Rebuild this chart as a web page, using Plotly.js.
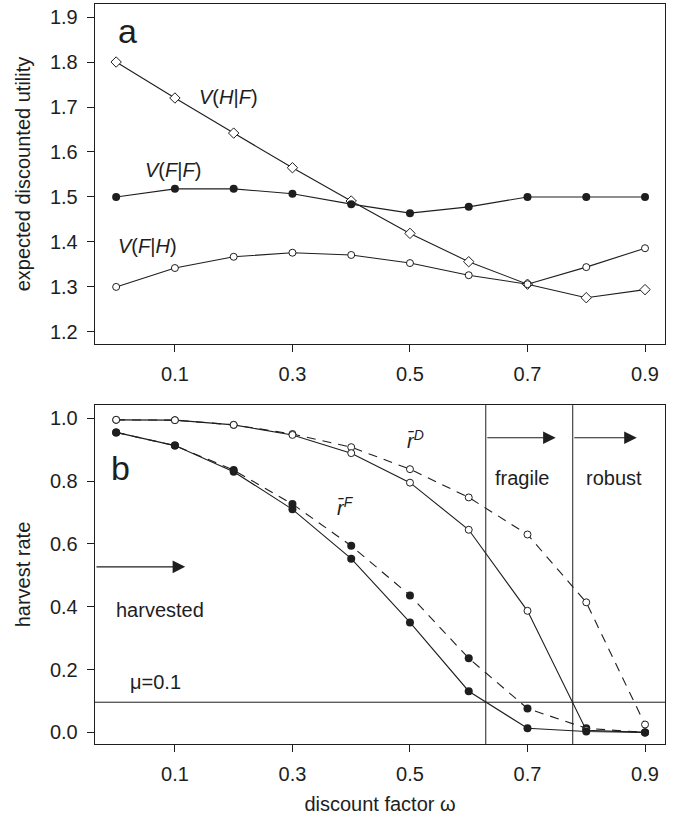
<!DOCTYPE html>
<html>
<head>
<meta charset="utf-8">
<script src="https://cdn.plot.ly/plotly-3.0.1.min.js"></script>
<style>html,body{margin:0;padding:0;background:#fff;}#chart{width:673px;height:815px;}</style>
</head>
<body>
<div id="chart"></div>
<script>
// ---- data ----
const omega = [0, 0.1, 0.2, 0.3, 0.4, 0.5, 0.6, 0.7, 0.8, 0.9];
// panel a: expected discounted utility
const V_HF = [1.800, 1.720, 1.642, 1.565, 1.491, 1.419, 1.356, 1.306, 1.276, 1.294];
const V_FF = [1.500, 1.518, 1.518, 1.507, 1.484, 1.464, 1.478, 1.500, 1.500, 1.500];
const V_FH = [1.300, 1.342, 1.367, 1.376, 1.371, 1.353, 1.326, 1.306, 1.344, 1.386];
// panel b: harvest rate
const rD_solid  = [0.995, 0.994, 0.979, 0.947, 0.889, 0.795, 0.645, 0.387, 0.007, 0.000];
const rD_dashed = [0.995, 0.994, 0.979, 0.950, 0.908, 0.838, 0.748, 0.630, 0.414, 0.025];
const rF_solid  = [0.955, 0.913, 0.830, 0.710, 0.553, 0.350, 0.131, 0.013, 0.003, 0.000];
const rF_dashed = [0.955, 0.913, 0.835, 0.727, 0.594, 0.436, 0.236, 0.076, 0.013, 0.000];
const muLevel = 0.096;
const regimeBounds = [0.629, 0.777];
const xTicks = [0.1, 0.3, 0.5, 0.7, 0.9];
const xTickText = ['0.1', '0.3', '0.5', '0.7', '0.9'];
const yTicksA = [1.2, 1.3, 1.4, 1.5, 1.6, 1.7, 1.8, 1.9];
const yTicksB = [0, 0.2, 0.4, 0.6, 0.8, 1.0];
const yTickTextB = ['0.0', '0.2', '0.4', '0.6', '0.8', '1.0'];

// ---- styling ----
const INK = '#1e1e1e';
const FONT = '"Liberation Sans", Arial, Helvetica, sans-serif';
const lineSolid = {color: INK, width: 1.1};
const lineDash = {color: INK, width: 1.1, dash: '9px,7px'};
const openCircle = {symbol: 'circle', size: 7, color: '#fff', line: {color: INK, width: 1}};
const filledCircle = {symbol: 'circle', size: 8, color: INK, line: {color: INK, width: 0}};
const openDiamond = {symbol: 'diamond', size: 8, color: '#fff', line: {color: INK, width: 1}};

const traces = [
  {x: omega, y: V_HF, mode: 'lines+markers', line: lineSolid, marker: openDiamond, xaxis: 'x', yaxis: 'y'},
  {x: omega, y: V_FF, mode: 'lines+markers', line: lineSolid, marker: filledCircle, xaxis: 'x', yaxis: 'y'},
  {x: omega, y: V_FH, mode: 'lines+markers', line: lineSolid, marker: openCircle, xaxis: 'x', yaxis: 'y'},
  {x: omega, y: rD_dashed, mode: 'lines+markers', line: lineDash, marker: openCircle, xaxis: 'x2', yaxis: 'y2'},
  {x: omega, y: rF_dashed, mode: 'lines+markers', line: lineDash, marker: filledCircle, xaxis: 'x2', yaxis: 'y2'},
  {x: omega, y: rD_solid, mode: 'lines+markers', line: lineSolid, marker: openCircle, xaxis: 'x2', yaxis: 'y2'},
  {x: omega, y: rF_solid, mode: 'lines+markers', line: lineSolid, marker: filledCircle, xaxis: 'x2', yaxis: 'y2'}
];

const tickFont = {family: FONT, size: 20, color: INK};
const titleFont = {family: FONT, size: 20, color: INK};
const axisCommon = {
  showgrid: false, zeroline: false, showline: true, mirror: true,
  linecolor: INK, linewidth: 1.3, ticks: 'outside', ticklen: 7, tickwidth: 1,
  tickcolor: INK, tickfont: tickFont, ticklabelstandoff: 5
};

const xRange = [-0.036, 0.934];

function txt(xr, yr, x, y, text, size) {
  return {xref: xr, yref: yr, x: x, y: y, text: text, showarrow: false,
          font: {family: FONT, size: size || 20, color: INK}, xanchor: 'center', yanchor: 'middle'};
}
function arrow(x0, x1, y) {
  return {xref: 'x2', yref: 'y2', axref: 'x2', ayref: 'y2', x: x1, y: y, ax: x0, ay: y,
          text: '', showarrow: true, arrowhead: 2, arrowsize: 2.1, arrowwidth: 1.2,
          arrowcolor: INK, standoff: 0, startstandoff: 0};
}

const annotations = [
  txt('x', 'y', 0.019, 1.868, 'a', 34),
  txt('x', 'y', 0.191, 1.722, '<i>V</i>(<i>H</i>|<i>F</i>)'),
  txt('x', 'y', 0.097, 1.560, '<i>V</i>(<i>F</i>|<i>F</i>)'),
  txt('x', 'y', 0.053, 1.391, '<i>V</i>(<i>F</i>|<i>H</i>)'),
  txt('x2', 'y2', 0.007, 0.842, 'b', 34),
  txt('x2', 'y2', 0.075, 0.390, 'harvested'),
  txt('x2', 'y2', 0.067, 0.161, 'μ=0.1'),
  txt('x2', 'y2', 0.509, 0.931, '<i>r̄</i><sup><i>D</i></sup>'),
  txt('x2', 'y2', 0.390, 0.718, '<i>r̄</i><sup><i>F</i></sup>'),
  txt('x2', 'y2', 0.691, 0.810, 'fragile'),
  txt('x2', 'y2', 0.848, 0.810, 'robust'),
  arrow(xRange[0], 0.1175, 0.527),
  arrow(regimeBounds[0], 0.748, 0.938),
  arrow(regimeBounds[1], 0.886, 0.938)
];

const shapes = [
  {type: 'line', xref: 'x2 domain', yref: 'y2', x0: 0, x1: 1, y0: muLevel, y1: muLevel, line: {color: INK, width: 1}},
  {type: 'line', xref: 'x2', yref: 'y2 domain', x0: regimeBounds[0], x1: regimeBounds[0], y0: 0, y1: 1, line: {color: INK, width: 1}},
  {type: 'line', xref: 'x2', yref: 'y2 domain', x0: regimeBounds[1], x1: regimeBounds[1], y0: 0, y1: 1, line: {color: INK, width: 1}}
];

const layout = {
  width: 673, height: 815,
  margin: {l: 95, r: 8, t: 4, b: 71},
  paper_bgcolor: '#fff', plot_bgcolor: '#fff',
  showlegend: false,
  font: {family: FONT, color: INK},
  xaxis: Object.assign({}, axisCommon, {domain: [0, 1], range: xRange, tickvals: xTicks, ticktext: xTickText, anchor: 'y'}),
  yaxis: Object.assign({}, axisCommon, {domain: [0.5405, 1], range: [1.173, 1.929], tickvals: yTicksA, tickformat: '.1f', anchor: 'x',
    title: {text: 'expected discounted utility', font: titleFont, standoff: 14}}),
  xaxis2: Object.assign({}, axisCommon, {domain: [0, 1], range: xRange, tickvals: xTicks, ticktext: xTickText, anchor: 'y2',
    title: {text: 'discount factor ω', font: titleFont, standoff: 12}}),
  yaxis2: Object.assign({}, axisCommon, {domain: [0, 0.458], range: [-0.037, 1.042], tickvals: yTicksB, ticktext: yTickTextB, anchor: 'x2',
    title: {text: 'harvest rate', font: titleFont, standoff: 14}}),
  annotations: annotations,
  shapes: shapes
};

Plotly.newPlot('chart', traces, layout, {staticPlot: true, displayModeBar: false});
</script>
</body>
</html>
